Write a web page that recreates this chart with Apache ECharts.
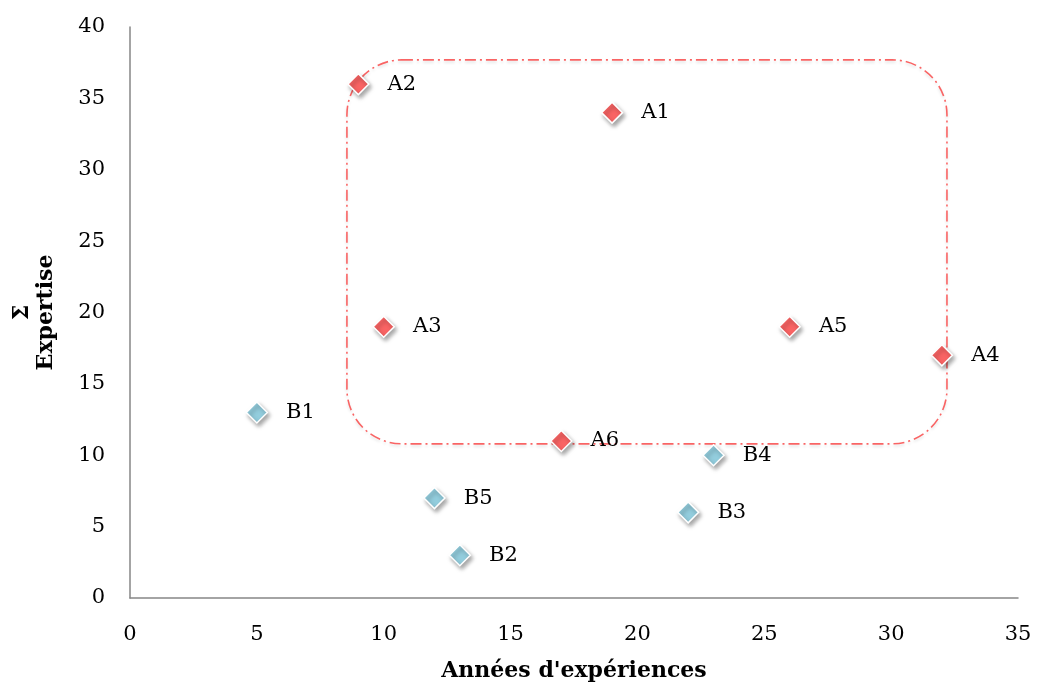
<!DOCTYPE html>
<html>
<head>
<meta charset="utf-8">
<script src="https://cdn.jsdelivr.net/npm/echarts@6/dist/echarts.min.js"></script>
<style>html,body{margin:0;padding:0;background:#fff}#c{width:1037px;height:684px}</style>
</head>
<body>
<div id="c"></div>
<script>
const groupA = [["A1",19,34],["A2",9,36],["A3",10,19],["A4",32,17],["A5",26,19],["A6",17,11]];
const groupB = [["B1",5,13],["B2",13,3],["B3",22,6],["B4",23,10],["B5",12,7]];
const highlightBox = [[8.55, 37.7, 32.2, 10.8]];
const xName = "Années d'expériences";
const yName = "Σ\nExpertise";
const FONT = "DejaVu Serif";

const chart = echarts.init(document.getElementById('c'));
function pts(arr){ return arr.map(d => ({name:d[0], value:[d[1], d[2]]})); }
const markerStyle = (color) => ({
  color: color, opacity:1, borderColor:'#fff', borderWidth:1.5,
  shadowBlur:4, shadowColor:'rgba(0,0,0,0.35)', shadowOffsetX:2, shadowOffsetY:3
});
const lbl = {show:true, position:'right', distance:18, formatter:p=>p.name, color:'#000', opacity:1, fontFamily:FONT, fontSize:21};
chart.setOption({
  animation:false,
  grid:{left:130, right:19, top:27, bottom:86, containLabel:false, outerBoundsMode:'none'},
  xAxis:{type:'value', min:0, max:35, interval:5,
    name:xName, nameLocation:'middle', nameGap:62,
    nameTextStyle:{fontFamily:FONT, fontWeight:'bold', fontSize:22, color:'#000'},
    axisLine:{show:true, lineStyle:{color:'#868686', width:1.5}},
    axisTick:{show:false}, splitLine:{show:false},
    axisLabel:{fontFamily:FONT, fontSize:21, color:'#000', margin:26}},
  yAxis:{type:'value', min:0, max:40, interval:5,
    name:yName, nameLocation:'middle', nameGap:72, nameRotate:90,
    nameTextStyle:{fontFamily:FONT, fontWeight:'bold', fontSize:22, color:'#000', lineHeight:24},
    axisLine:{show:true, lineStyle:{color:'#868686', width:1.5}},
    axisTick:{show:false}, splitLine:{show:false},
    axisLabel:{fontFamily:FONT, fontSize:21, color:'#000', margin:25}},
  series:[
    {type:'custom', data:highlightBox, silent:true, z:1,
      renderItem:(params, api)=>{
        const p1 = api.coord([api.value(0), api.value(1)]);
        const p2 = api.coord([api.value(2), api.value(3)]);
        return {type:'rect', shape:{x:p1[0], y:p1[1], width:p2[0]-p1[0], height:p2[1]-p1[1], r:55},
          style:{fill:null, stroke:'#F96464', lineWidth:1.6, lineDash:[11,4,2,4],
            shadowBlur:3, shadowColor:'rgba(0,0,0,0.12)', shadowOffsetY:2}};
      }},
    {type:'scatter', name:'A', data:pts(groupA), symbol:'diamond', symbolSize:21, z:3,
      itemStyle:markerStyle('#F96464'), label:lbl},
    {type:'scatter', name:'B', data:pts(groupB), symbol:'diamond', symbolSize:21, z:3,
      itemStyle:markerStyle('#93CDDD'), label:lbl}
  ]
});
</script>
</body>
</html>
